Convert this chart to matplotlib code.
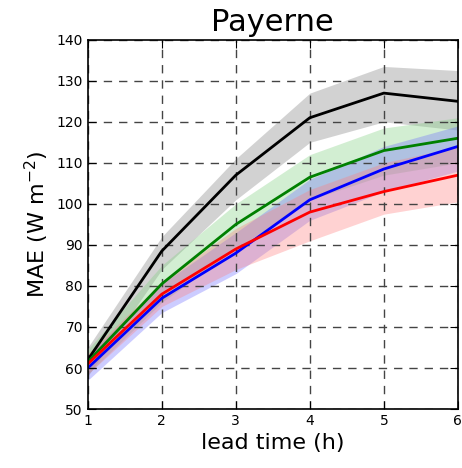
import matplotlib.pyplot as plt
import numpy as np

lead = [1, 2, 3, 4, 5, 6]

# mean MAE and band limits per model
black = [62, 88.5, 107, 121, 127, 125]
black_lo = [58, 84, 101, 115, 120, 118]
black_hi = [65, 92, 111, 127, 133.5, 132.5]

green = [61.5, 80.5, 95, 106.5, 113, 116]
green_lo = [58.5, 76, 89, 101, 107, 110]
green_hi = [64.5, 85, 100, 112, 118.5, 121]

blue = [60, 77, 88, 101, 108.5, 114]
blue_lo = [57, 73.5, 83, 96, 103, 108]
blue_hi = [63, 80.5, 93, 106, 114, 119]

red = [61, 78, 89, 98, 103, 107]
red_lo = [58.5, 75, 84, 91, 97.5, 100.5]
red_hi = [63.5, 81, 94, 103.5, 110, 114]

series = [
    (black, black_lo, black_hi, 'black', 'gray'),
    (green, green_lo, green_hi, 'green', '#7fd07f'),
    (blue, blue_lo, blue_hi, 'blue', '#6f6fff'),
    (red, red_lo, red_hi, 'red', '#ff7f7f'),
]

fig = plt.figure(figsize=(4.62, 4.68), dpi=100)
ax = fig.add_axes([0.19, 0.126, 0.801, 0.789])

for y, lo, hi, c, fc in series:
    ax.fill_between(lead, lo, hi, color=fc, alpha=0.35, lw=0)
for y, lo, hi, c, fc in series:
    ax.plot(lead, y, color=c, lw=2)

ax.set_xlim(1, 6)
ax.set_ylim(50, 140)
ax.set_xticks(lead)
ax.set_yticks(np.arange(50, 141, 10))
ax.tick_params(direction='in', labelsize=10, length=6)
ax.tick_params(top=True, right=True)
ax.grid(True, color='#444444', ls=(0, (6, 5)), lw=1)
ax.set_title('Payerne', fontsize=22, pad=6)
ax.set_xlabel('lead time (h)', fontsize=16)
ax.set_ylabel('MAE (W m$^{-2}$)', fontsize=16)
for s in ax.spines.values():
    s.set_linewidth(1.2)

fig.savefig('out.png', dpi=100)
